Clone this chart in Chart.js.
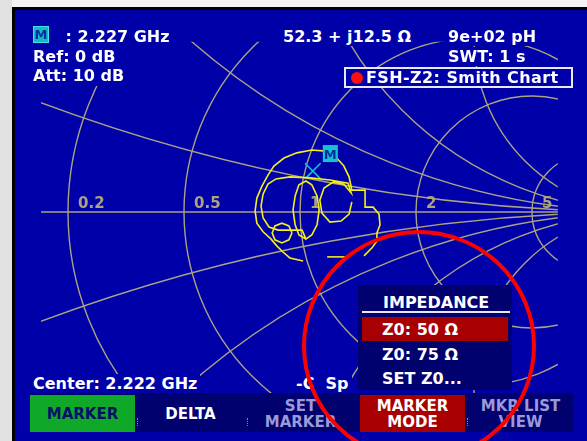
<!DOCTYPE html>
<html>
<head>
<meta charset="utf-8">
<script src="https://cdn.jsdelivr.net/npm/chart.js@4.4.1/dist/chart.umd.min.js"></script>
<style>
  body { margin: 0; width: 587px; height: 441px; overflow: hidden; position: relative; background: #f4f4f4;
         font-family: "DejaVu Sans", sans-serif; font-weight: bold; font-size: 16px; color: #fff; }
  .abs { position: absolute; white-space: nowrap; line-height: 19px; }
  #leftstrip { position: absolute; left: 0; top: 0; width: 12px; height: 441px; background: #e2e2e2; }
  #frame { position: absolute; left: 12px; top: 7px; width: 575px; height: 434px; background: #000; }
  #screen { position: absolute; left: 15px; top: 10px; width: 572px; height: 431px; background: #0000a8; }
  #smith { position: absolute; left: 15px; top: 10px; }
  .bg { background: #0000a8; padding-right: 3px; }
  #leftblock { position: absolute; left: 15px; top: 22px; width: 120px; height: 64px; background: #0000a8; }
  #mbox { position: absolute; left: 33px; top: 26px; width: 14px; height: 15px; background: #18b8c8;
          border: 1px solid #40e0f0; color: #0030a0; font-size: 13px; line-height: 15px; text-align: center; }
  #legend { position: absolute; left: 344px; top: 67px; width: 225px; height: 17px; border: 2px solid #e8e8f8;
            background: #0000a8; line-height: 18px; }
  #legend .dot { position: absolute; left: 5px; top: 3px; width: 12px; height: 12px; border-radius: 6px; background: #ff1010; }
  #legend span.t { position: absolute; left: 20px; top: 0; letter-spacing: 0.4px; }
  #menu { position: absolute; left: 358px; top: 285px; width: 154px; height: 105px; background: #00006e; }
  #menu .hd { position: absolute; left: 25px; top: 8px; }
  #menu .ul { position: absolute; left: 4px; top: 26px; width: 148px; height: 2px; background: #e8e8f8; }
  #menu .sel { position: absolute; left: 4px; top: 32px; width: 146px; height: 24px; background: #a80000; }
  #menu .it { position: absolute; left: 24px; }
  #keys { position: absolute; left: 30px; top: 393px; width: 543px; height: 39px; background: #00006e; }
  .key { position: absolute; top: 2px; height: 37px; width: 105px; text-align: center; font-size: 15px; line-height: 16px;
         display: flex; flex-direction: column; justify-content: center; }
  .dim { color: #9a9ad8; }
  .sep { position: absolute; top: 25px; width: 1px; height: 8px; border-left: 1px dotted #8080c0; }
</style>
</head>
<body>
<div id="leftstrip"></div>
<div id="frame"></div>
<div id="screen"></div>
<canvas id="smith" width="572" height="431"></canvas>

<!-- readouts -->
<div id="leftblock"></div>
<div id="mbox">M</div>
<div class="abs bg" style="left:60px;top:27px;">&nbsp;: 2.227 GHz</div>
<div class="abs bg" style="left:33px;top:47px;">Ref: 0 dB</div>
<div class="abs bg" style="left:33px;top:66px;">Att: 10 dB</div>
<div class="abs bg" style="left:283px;top:27px;">52.3 + j12.5 Ω</div>
<div class="abs bg" style="left:448px;top:27px;">9e+02 pH</div>
<div class="abs bg" style="left:448px;top:47px;">SWT: 1 s</div>
<div id="legend"><div class="dot"></div><span class="t">FSH-Z2: Smith Chart</span></div>
<div class="abs bg" style="left:15px;top:374px;padding-left:18px;">Center: 2.222 GHz</div>
<div class="abs bg" style="left:292px;top:374px;padding-left:4px;">-C&nbsp; Sp</div>

<!-- impedance menu -->
<div id="menu">
  <div class="abs hd">IMPEDANCE</div>
  <div class="ul"></div>
  <div class="sel"></div>
  <div class="abs it" style="top:35px;">Z0: 50 Ω</div>
  <div class="abs it" style="top:60px;">Z0: 75 Ω</div>
  <div class="abs it" style="top:84px;">SET Z0...</div>
</div>

<!-- softkeys -->
<div id="keys">
  <div class="key" style="left:0;top:2px;height:37px;background:#10a828;color:#00106a;">MARKER</div>
  <div class="sep" style="left:107px;"></div>
  <div class="key" style="left:108px;">DELTA</div>
  <div class="sep" style="left:217px;"></div>
  <div class="key dim" style="left:218px;"><span>SET</span><span>MARKER</span></div>
  <div class="key" style="left:330px;background:#a80000;"><span>MARKER</span><span>MODE</span></div>
  <div class="sep" style="left:437px;"></div>
  <div class="key dim" style="left:438px;"><span>MKR LIST</span><span>VIEW</span></div>
</div>

<svg width="587" height="441" style="position:absolute;left:0;top:0;pointer-events:none;">
  <ellipse cx="419" cy="346" rx="115" ry="114" fill="none" stroke="#ff0000" stroke-width="4"/>
</svg>

<script>
  // Smith chart grid values (normalised)
  var resistanceCircles = [0.2, 0.5, 1, 2, 5];
  var reactanceArcs = [0.2, 0.5, 1, 2, 5];

  // Marker readout: 52.3 + j12.5 ohm, Z0 = 50 ohm
  var z0 = 50;
  var markerR = 52.3;
  var markerX = 12.5;

  // Measured trace as reflection coefficient (real / imaginary), null = break
  var traceRe = [
    0.009, -0.029, -0.049, -0.066, -0.083, -0.106, -0.124, -0.129, -0.124, -0.109, -0.092, -0.075, -0.046, -0.009,
    0.034, 0.075, 0.103, 0.126, 0.141, 0.149, 0.187, 0.187, 0.210, 0.227, 0.230, 0.221, 0.221, 0.207, 0.184,
    null,
    0.149, 0.141, 0.118, 0.086, 0.063, 0.057, 0.069, 0.095, 0.126, 0.147, 0.138, 0.086, 0.029, -0.029, -0.069,
    -0.092, -0.106, -0.112, -0.106, -0.089, -0.063, -0.029, 0.006,
    0.017, 0.034, 0.049, 0.055, 0.049, 0.034, 0.017, -0.003, -0.014, -0.020, -0.014, -0.003, 0.017,
    null,
    -0.023, -0.032, -0.052, -0.072, -0.080, -0.072, -0.052, -0.032, -0.023,
    null,
    0.078, 0.129
  ];
  var traceIm = [
    -0.141, -0.132, -0.115, -0.098, -0.078, -0.057, -0.032, 0.003, 0.040, 0.075, 0.106, 0.132, 0.155, 0.170,
    0.178, 0.175, 0.158, 0.132, 0.101, 0.063, 0.063, 0.014, 0.014, -0.006, -0.037, -0.060, -0.083, -0.103, -0.126,
    null,
    0.029, -0.006, -0.026, -0.029, -0.003, 0.034, 0.069, 0.086, 0.080, 0.055, 0.083, 0.092, 0.098, 0.101, 0.095,
    0.080, 0.052, 0.017, -0.017, -0.043, -0.052, -0.052, -0.052,
    -0.078, -0.066, -0.037, 0.006, 0.046, 0.078, 0.089, 0.078, 0.046, 0.006, -0.037, -0.066, -0.078,
    null,
    -0.060, -0.040, -0.032, -0.040, -0.060, -0.080, -0.089, -0.080, -0.060,
    null,
    -0.129, -0.129
  ];

  var gridColor = "#aaa282";
  var traceColor = "#f4f018";
  var markerColor = "#18c0d0";

  // split trace into segments
  var segments = [[]];
  for (var i = 0; i < traceRe.length; i++) {
    if (traceRe[i] === null) { segments.push([]); continue; }
    segments[segments.length - 1].push({ x: traceRe[i], y: traceIm[i] });
  }

  // marker impedance -> reflection coefficient
  var zr = markerR / z0, zx = markerX / z0;
  var den = (zr + 1) * (zr + 1) + zx * zx;
  var markerPoint = { x: (zr * zr + zx * zx - 1) / den, y: (2 * zx) / den };

  var datasets = segments.map(function (seg) {
    return { data: seg, showLine: true, borderColor: traceColor, borderWidth: 1.6, pointRadius: 0, fill: false, tension: 0 };
  });
  datasets.push({
    data: [markerPoint], showLine: false, pointStyle: "crossRot", pointRadius: 11,
    borderColor: markerColor, borderWidth: 1.6
  });

  var smithGrid = {
    id: "smithGrid",
    beforeDatasetsDraw: function (chart) {
      var ctx = chart.ctx, xs = chart.scales.x, ys = chart.scales.y;
      var px = function (v) { return xs.getPixelForValue(v); };
      var py = function (v) { return ys.getPixelForValue(v); };
      var unit = px(1) - px(0);

      ctx.save();
      ctx.beginPath();
      ctx.rect(px(-0.744), py(0.489), px(0.741) - px(-0.744), py(-0.52) - py(0.489));
      ctx.clip();
      ctx.beginPath();
      ctx.arc(px(0), py(0), unit, 0, 2 * Math.PI);
      ctx.clip();
      ctx.strokeStyle = gridColor;
      ctx.lineWidth = 1.4;

      ctx.beginPath();
      ctx.moveTo(px(-1), py(0));
      ctx.lineTo(px(1), py(0));
      ctx.stroke();

      resistanceCircles.forEach(function (r) {
        ctx.beginPath();
        ctx.arc(px(r / (r + 1)), py(0), unit / (r + 1), 0, 2 * Math.PI);
        ctx.stroke();
      });
      reactanceArcs.forEach(function (xv) {
        [1, -1].forEach(function (s) {
          ctx.beginPath();
          ctx.arc(px(1), py(s / xv), unit / xv, 0, 2 * Math.PI);
          ctx.stroke();
        });
      });
      ctx.restore();

      ctx.save();
      ctx.fillStyle = gridColor;
      ctx.font = "bold 15px 'DejaVu Sans'";
      ctx.textBaseline = "alphabetic";
      resistanceCircles.forEach(function (r) {
        ctx.fillText(String(r), px((r - 1) / (r + 1)) + 10, py(0) - 4);
      });
      ctx.restore();
    },
    afterDatasetsDraw: function (chart) {
      var ctx = chart.ctx;
      var mx = chart.scales.x.getPixelForValue(markerPoint.x);
      var my = chart.scales.y.getPixelForValue(markerPoint.y);
      ctx.save();
      ctx.fillStyle = markerColor;
      ctx.fillRect(mx + 10, my - 26, 15, 17);
      ctx.fillStyle = "#0030a0";
      ctx.font = "bold 13px 'DejaVu Sans'";
      ctx.textAlign = "center";
      ctx.fillText("M", mx + 17.5, my - 12);
      ctx.restore();
    }
  };

  var ctx = document.getElementById("smith");
  window.smithChart = new Chart(ctx, {
    type: "scatter",
    data: { datasets: datasets },
    options: {
      responsive: false,
      animation: false,
      layout: { padding: 0, autoPadding: false },
      plugins: { legend: { display: false }, tooltip: { enabled: false } },
      scales: {
        x: { type: "linear", min: -285 / 348, max: 287 / 348, display: false },
        y: { type: "linear", min: -229 / 348, max: 202 / 348, display: false }
      }
    },
    plugins: [smithGrid]
  });
</script>
</body>
</html>
